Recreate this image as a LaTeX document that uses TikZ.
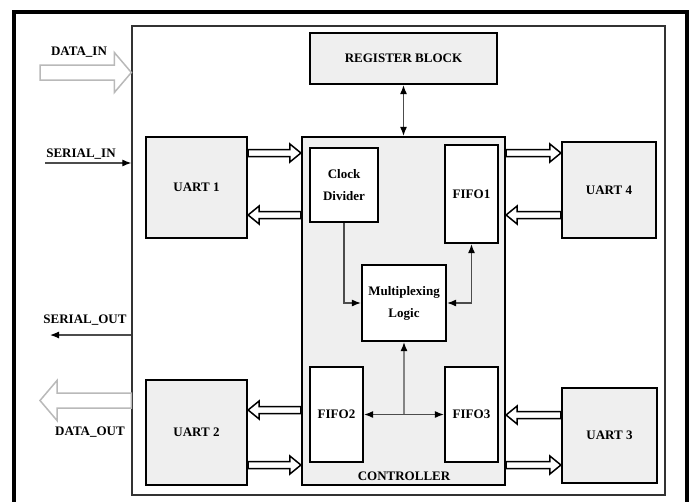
\documentclass[tikz,border=0pt]{standalone}
\usepackage{fontspec}
\setmainfont{Liberation Serif}
\usetikzlibrary{arrows.meta,calc}
\definecolor{grigio}{HTML}{EFEFEF}

\begin{document}
\begin{tikzpicture}[x=1pt,y=-1pt,
    >={Latex[length=9pt,width=7pt,color=black]},
    testo/.style={font=\fontsize{13}{22}\selectfont\bfseries},
    blocco/.style 2 args={draw, line width=2.2pt, fill=grigio, minimum width=#1pt,
        minimum height=#2pt, inner sep=0pt, align=center, testo},
    interno/.style 2 args={blocco={#1}{#2}, fill=white},
    filo/.style={draw=gray!60!black, line width=1.2pt},
    freccia/.style n args={3}{to path={
        let \p1=(\tikztostart), \p2=(\tikztotarget),
            \n1={(\x2-\x1)/abs(\x2-\x1)} in
        (\x1,\y1-#1pt) -- ({\x2-\n1*#3pt},\y1-#1pt) -- ({\x2-\n1*#3pt},\y1-#2pt)
        -- (\x2,\y1) -- ({\x2-\n1*#3pt},\y1+#2pt) -- ({\x2-\n1*#3pt},\y1+#1pt)
        -- (\x1,\y1+#1pt) -- cycle}},
    piccola/.style={freccia={3.5}{9}{11}, draw, line width=1.5pt, fill=white},
    grande/.style={freccia={7.5}{20}{17}, draw=gray!55, line width=1.5pt, fill=white}]
    \useasboundingbox (0,0) rectangle (693,501);
    \clip (0,0) rectangle (693,501);

    % Cornice esterna e chip
    \draw[line width=3.5pt] (14,12) rectangle (687,520);
    \node[draw=gray!40!black, line width=1.3pt, minimum width=533pt, minimum height=469pt,
        inner sep=0pt] (chip) at (398.5,260.5) {};

    % Blocchi principali
    \node[blocco={187}{51}] (reg) at (403.5,58.5) {REGISTER BLOCK};
    \node[blocco={203}{348}] (ctrl) at (403.5,311) {};
    \node[testo] (lblctrl) at (404,476) {CONTROLLER};
    \node[blocco={101}{101}] (uart1) at (196.5,187.5) {UART 1};
    \node[blocco={101}{105}] (uart2) at (196.5,432.5) {UART 2};
    \node[blocco={95}{95}] (uart3) at (609.5,435.5) {UART 3};
    \node[blocco={94}{96}] (uart4) at (609,190) {UART 4};

    % Blocchi interni al controller
    \node[interno={68}{74}] (clk) at (344,185) {Clock\\Divider};
    \node[interno={53}{98}] (fifo1) at (471.5,194) {FIFO1};
    \node[interno={84}{76}] (mux) at (404,303) {Multiplexing\\Logic};
    \node[interno={53}{95}] (fifo2) at (336.5,414.5) {FIFO2};
    \node[interno={53}{95}] (fifo3) at (471.5,414.5) {FIFO3};

    % Collegamenti interni
    \draw[filo, <->] (reg) -- (ctrl);
    \draw[filo, ->] (clk) |- (mux);
    \draw[filo, <->] (fifo1) |- (mux);
    \draw[filo, <->] (fifo2) -- (fifo3);
    \coordinate (centro) at ($(fifo2.east)!0.5!(fifo3.west)$);
    \draw[filo, ->] (centro) -- (mux);

    % Frecce doppie tra UART e controller
    \coordinate (r1) at (0,153);
    \coordinate (r2) at (0,215);
    \coordinate (r3) at (0,410);
    \coordinate (r4) at (0,415);
    \coordinate (r5) at (0,465);
    \draw[piccola] (uart1.east |- r1) to (ctrl.west |- r1);
    \draw[piccola] (ctrl.west |- r2) to (uart1.east |- r2);
    \draw[piccola] (ctrl.east |- r1) to (uart4.west |- r1);
    \draw[piccola] (uart4.west |- r2) to (ctrl.east |- r2);
    \draw[piccola] (ctrl.west |- r3) to (uart2.east |- r3);
    \draw[piccola] (uart2.east |- r5) to (ctrl.west |- r5);
    \draw[piccola] (uart3.west |- r4) to (ctrl.east |- r4);
    \draw[piccola] (ctrl.east |- r5) to (uart3.west |- r5);

    % Ingressi e uscite
    \coordinate (din) at (40,72.5);
    \coordinate (dout) at (40,400.5);
    \coordinate (sin) at (45,163);
    \coordinate (sout) at (50,335);
    \draw[grande] (din) to (din -| chip.west);
    \draw[grande] (dout -| chip.west) to (dout);
    \draw[filo, ->] (sin) -- (sin -| chip.west);
    \draw[filo, ->] (sout -| chip.west) -- (sout);
    \node[testo] (lbldin) at (79,52) {DATA\_IN};
    \node[testo] (lblsin) at (81,154) {SERIAL\_IN};
    \node[testo] (lblsout) at (85,320) {SERIAL\_OUT};
    \node[testo] (lbldout) at (90,432) {DATA\_OUT};
\end{tikzpicture}
\end{document}
